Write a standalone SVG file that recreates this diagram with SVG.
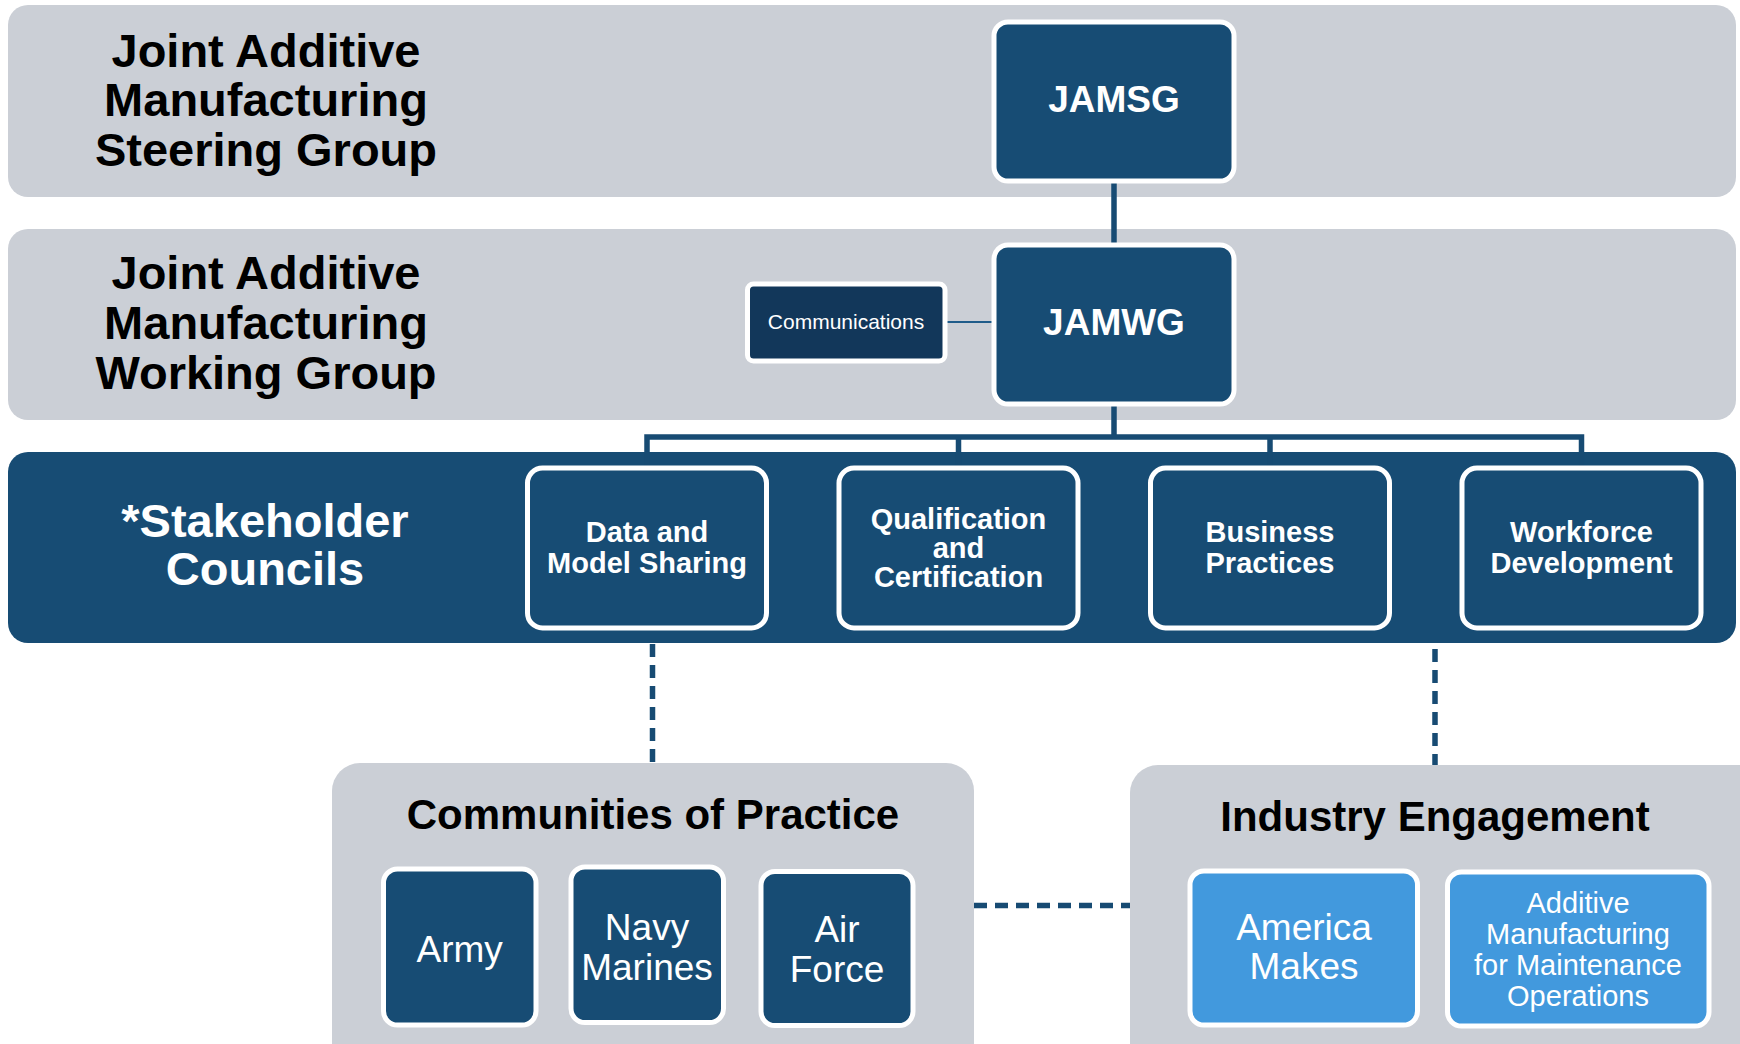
<svg xmlns="http://www.w3.org/2000/svg" width="1740" height="1044" viewBox="0 0 1740 1044">
<style>
text{font-family:"Liberation Sans",Arial,Helvetica,sans-serif;text-anchor:middle}
.band{fill:#CBCFD6}
.dark{fill:#174C74}
.node{fill:#174C74;stroke:#FFFFFF;stroke-width:5}
.comm{fill:#12375A;stroke:#FFFFFF;stroke-width:5}
.light{fill:#4299DD;stroke:#FFFFFF;stroke-width:5}
.title{font-weight:bold;font-size:47px;fill:#000000}
.wtitle{font-weight:bold;font-size:47px;fill:#FFFFFF}
.big{font-weight:bold;font-size:37px;fill:#FFFFFF}
.council{font-weight:bold;font-size:29px;fill:#FFFFFF}
.sect{font-weight:bold;font-size:42px;fill:#000000}
.svc{font-size:37px;fill:#FFFFFF}
.small{font-size:29px;fill:#FFFFFF}
.solid{fill:none;stroke:#174B73;stroke-width:5.5}
.thin{fill:none;stroke:#1F5C8A;stroke-width:2}
.dash{fill:none;stroke:#174B73;stroke-width:5.5;stroke-dasharray:13 8}
</style>

<g id="band-steering">
<rect class="band" x="8" y="5" width="1728" height="192" rx="20"/>
<text class="title" x="266" y="67">Joint Additive</text>
<text class="title" x="266" y="116">Manufacturing</text>
<text class="title" x="266" y="166">Steering Group</text>
</g>

<g id="band-working">
<rect class="band" x="8" y="229" width="1728" height="191" rx="20"/>
<text class="title" x="266" y="289">Joint Additive</text>
<text class="title" x="266" y="339">Manufacturing</text>
<text class="title" x="266" y="389">Working Group</text>
</g>

<g id="band-councils">
<rect class="dark" x="8" y="452" width="1728" height="191" rx="20"/>
<text class="wtitle" x="265" y="537">*Stakeholder</text>
<text class="wtitle" x="265" y="585">Councils</text>
</g>

<g id="connectors">
<line class="solid" x1="1114" y1="183" x2="1114" y2="243"/>
<line class="thin" x1="947" y1="322" x2="992" y2="322"/>
<line class="solid" x1="1114" y1="406" x2="1114" y2="437"/>
<path class="solid" d="M647,467 V437 H1581.5 V467"/>
<line class="solid" x1="958.5" y1="437" x2="958.5" y2="467"/>
<line class="solid" x1="1270" y1="437" x2="1270" y2="467"/>
<line class="dash" x1="652.5" y1="644" x2="652.5" y2="763"/>
<line class="dash" x1="1435" y1="649" x2="1435" y2="765"/>
<line class="dash" x1="974" y1="905.5" x2="1130" y2="905.5"/>
</g>

<g id="node-jamsg">
<rect class="node" x="994" y="22" width="240" height="159" rx="14"/>
<text class="big" x="1114" y="112">JAMSG</text>
</g>

<g id="node-jamwg">
<rect class="node" x="994" y="245" width="240" height="159" rx="14"/>
<text class="big" x="1114" y="335">JAMWG</text>
</g>

<g id="node-communications">
<rect class="comm" x="747.5" y="284" width="197.5" height="77" rx="6"/>
<text x="846" y="329" style="font-size:21px;fill:#FFFFFF">Communications</text>
</g>

<g id="node-data">
<rect class="node" x="527.5" y="468" width="239" height="160" rx="15"/>
<text class="council" x="647" y="542">Data and</text>
<text class="council" x="647" y="573">Model Sharing</text>
</g>

<g id="node-qualification">
<rect class="node" x="839" y="468" width="239" height="160" rx="15"/>
<text class="council" x="958.5" y="529">Qualification</text>
<text class="council" x="958.5" y="558">and</text>
<text class="council" x="958.5" y="587">Certification</text>
</g>

<g id="node-business">
<rect class="node" x="1150.5" y="468" width="239" height="160" rx="15"/>
<text class="council" x="1270" y="542">Business</text>
<text class="council" x="1270" y="573">Practices</text>
</g>

<g id="node-workforce">
<rect class="node" x="1462" y="468" width="239" height="160" rx="15"/>
<text class="council" x="1581.5" y="542">Workforce</text>
<text class="council" x="1581.5" y="573">Development</text>
</g>

<g id="group-communities">
<rect class="band" x="332" y="763" width="642" height="330" rx="28"/>
<text class="sect" x="653" y="829">Communities of Practice</text>
</g>

<g id="node-army">
<rect class="node" x="383.5" y="869" width="152.5" height="156" rx="14"/>
<text class="svc" x="459.7" y="962">Army</text>
</g>

<g id="node-navy">
<rect class="node" x="571" y="867" width="152.5" height="155.5" rx="14"/>
<text class="svc" x="647" y="940">Navy</text>
<text class="svc" x="647" y="980">Marines</text>
</g>

<g id="node-airforce">
<rect class="node" x="761" y="871.5" width="152" height="154" rx="14"/>
<text class="svc" x="837" y="942">Air</text>
<text class="svc" x="837" y="982">Force</text>
</g>

<g id="group-industry">
<rect class="band" x="1130" y="765" width="640" height="330" rx="28"/>
<text class="sect" x="1435" y="831">Industry Engagement</text>
</g>

<g id="node-americamakes">
<rect class="light" x="1190" y="871" width="227.5" height="154" rx="14"/>
<text class="svc" x="1304" y="940">America</text>
<text class="svc" x="1304" y="979">Makes</text>
</g>

<g id="node-ammo">
<rect class="light" x="1447.5" y="872" width="261.5" height="154" rx="14"/>
<text class="small" x="1578" y="913">Additive</text>
<text class="small" x="1578" y="944">Manufacturing</text>
<text class="small" x="1578" y="975">for Maintenance</text>
<text class="small" x="1578" y="1006">Operations</text>
</g>
</svg>
